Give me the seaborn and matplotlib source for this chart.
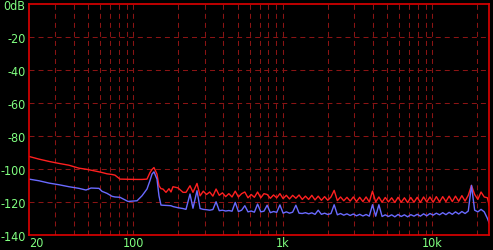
import numpy as np
import pandas as pd
import matplotlib
matplotlib.use("Agg")
import matplotlib.pyplot as plt
import seaborn as sns

# ---------------- data ----------------
freq = [20, 23.3, 27.2, 31.7, 37.0, 43.2, 48.1, 52.0, 58.8, 61.6, 66.5, 71.8,
        75.2, 81.2, 91.9, 105.6, 114, 123.1, 129, 132.9, 137.1, 143.6, 148.1,
        152.7, 157.5, 165, 172.8, 178.2, 183.8, 198.5, 214.4, 224.5, 238.8,
        250, 266,
        279, 293.1, 307.9, 323.4, 339.7, 356.8, 374.8, 393.7, 413.5, 434.4,
        456.3, 479.3, 503.4, 528.8, 555.5, 583.5, 612.9, 643.8, 676.2, 710.3,
        746.1, 783.7, 823.2, 864.7, 908.3, 954.1, 1002, 1053, 1106, 1161,
        1220, 1281, 1346, 1414, 1485, 1560, 1638, 1721, 1808, 1899, 1994,
        2095, 2200, 2311, 2428, 2550, 2679, 2814, 2956, 3105, 3261, 3426,
        3598, 3780, 3970, 4171, 4381, 4601, 4833, 5077, 5333, 5602, 5884,
        6181, 6492, 6820, 7163, 7524, 7904, 8302, 8721, 9160, 9622, 10107,
        10617, 11152, 11714, 12304, 12925, 13576, 14260, 14979, 15734, 16527,
        17360, 18235, 19154, 20120, 21134, 22199, 23318, 24000]

red_db = [-92.5, -94.1, -95.5, -96.7, -97.8, -99.6, -100.2, -100.8, -101.8,
          -102.2, -103.0, -103.4, -103.8, -106.2, -106.3, -106.4, -106.4,
          -106.2, -102.2, -100.4, -99.2, -103.2, -110.2, -112.0, -112.2,
          -114.2, -112.0, -114.0, -110.8, -111.5, -114.2, -114.2, -110.2,
          -114.2, -108.8,
          -116.3, -113.5, -115.5, -114.0, -116.5, -112.2, -116.0, -114.5,
          -116.8, -115.0, -117.0, -113.5, -117.0, -115.0, -114.0, -117.5,
          -115.5, -117.2, -114.0, -117.5, -115.0, -115.5, -117.8, -115.8,
          -117.5, -115.0, -118.0, -116.0, -118.2, -116.0, -117.8, -115.8,
          -118.5, -116.5, -118.5, -116.0, -118.8, -116.5, -119.0, -116.8,
          -119.0, -117.0, -113.0, -119.2, -117.0, -119.3, -117.2, -119.5,
          -117.0, -119.8, -117.2, -119.8, -117.0, -120.0, -113.5, -120.0,
          -117.0, -120.2, -117.3, -120.0, -117.5, -120.3, -117.2, -120.2,
          -117.5, -120.4, -117.3, -120.2, -117.2, -120.3, -117.0, -120.0,
          -117.0, -120.2, -116.8, -120.0, -116.8, -119.8, -116.5, -119.8,
          -116.5, -119.6, -116.2, -119.5, -116.0, -110.0, -115.5, -118.5,
          -114.0, -117.0, -117.5, -122.5]

blue_db = [-106.2, -107.2, -108.6, -109.6, -110.8, -111.8, -112.8, -111.6,
           -111.8, -113.6, -114.8, -116.6, -117.0, -117.2, -119.7, -119.3,
           -116.3, -112.2, -107.0, -103.2, -101.8, -106.2, -116.3, -121.9,
           -122.0, -122.1, -122.2, -122.3, -122.8, -123.5, -124.0, -124.5,
           -115.2, -123.8, -113.2,
           -124.0, -124.5, -124.7, -125.0, -124.6, -119.9, -125.3, -125.0,
           -125.5, -125.2, -125.6, -120.3, -125.8, -125.0, -122.3, -126.0,
           -125.5, -126.2, -121.3, -126.0, -125.6, -122.0, -126.5, -125.8,
           -126.3, -121.8, -126.8, -126.0, -126.8, -126.2, -122.0, -126.8,
           -127.0, -126.5, -127.2, -126.6, -127.5, -125.0, -127.5, -126.8,
           -127.6, -127.0, -121.7, -127.8, -127.0, -128.0, -127.2, -128.2,
           -127.3, -128.4, -127.5, -128.5, -127.6, -128.6, -121.7, -128.6,
           -121.7, -128.8, -127.8, -128.8, -127.8, -129.0, -127.6, -128.8,
           -127.8, -129.0, -127.7, -128.6, -127.5, -128.6, -127.2, -128.4,
           -127.0, -128.0, -126.8, -127.8, -126.5, -127.7, -126.3, -127.5,
           -126.0, -127.3, -125.8, -127.0, -125.5, -110.0, -125.0, -126.0,
           -124.5, -126.0, -130.0, -133.0]

x_ticks = [20, 100, 1000, 10000]
x_labels = ["20", "100", "1k", "10k"]
x_grid = [30, 40, 50, 60, 70, 80, 90, 100, 200, 300, 400, 500, 600, 700, 800,
          900, 1000, 2000, 3000, 4000, 5000, 6000, 7000, 8000, 9000, 10000,
          20000]
y_ticks = [0, -20, -40, -60, -80, -100, -120, -140]
y_labels = ["0dB", "-20", "-40", "-60", "-80", "-100", "-120", "-140"]

# ---------------- style ----------------
sns.set_style("dark")
plt.rcParams["font.family"] = ["DejaVu Sans"]
plt.rcParams["font.stretch"] = "condensed"
plt.rcParams["lines.scale_dashes"] = False

GREEN = "#80ff80"
FRAME = "#e00000"
GRID = "#8a1414"

df = pd.concat([
    pd.DataFrame({"freq": freq, "db": red_db, "ch": "L"}),
    pd.DataFrame({"freq": freq, "db": blue_db, "ch": "R"}),
])

fig = plt.figure(figsize=(4.93, 2.51), dpi=100, facecolor="black")
ax = fig.add_axes([29 / 493, 1 - 236 / 251, 460.3 / 493, 231.5 / 251])
ax.set_facecolor("black")

sns.lineplot(data=df, x="freq", y="db", hue="ch",
             palette={"L": "#ff2020", "R": "#6a6aff"},
             estimator=None, sort=False, legend=False, lw=1.0, ax=ax)

ax.set_xscale("log")
ax.set_xlim(20, 24000)
ax.set_ylim(-140, 0)

# grid lines
for g in x_grid:
    ax.axvline(g, color=GRID, lw=0.75, ls=(0, (3.6, 2.9)), zorder=0.5)
for g in y_ticks[1:-1]:
    ax.axhline(g, color=GRID, lw=0.75, ls=(0, (3.6, 2.9)), zorder=0.5)
ax.grid(False)

ax.set_xticks(x_ticks)
ax.set_xticks([], minor=True)
ax.set_xticklabels(x_labels)
ax.set_yticks(y_ticks)
ax.set_yticklabels(y_labels)
ax.tick_params(axis="both", length=0, colors=GREEN, labelsize=9)
ax.tick_params(axis="y", pad=2.5)
ax.tick_params(axis="x", pad=1)
ax.get_xticklabels()[0].set_ha("left")
ax.set_xlabel("")
ax.set_ylabel("")

for s in ax.spines.values():
    s.set_visible(True)
    s.set_color(FRAME)
    s.set_linewidth(1.2)

fig.savefig("out.png", dpi=100, facecolor="black")
